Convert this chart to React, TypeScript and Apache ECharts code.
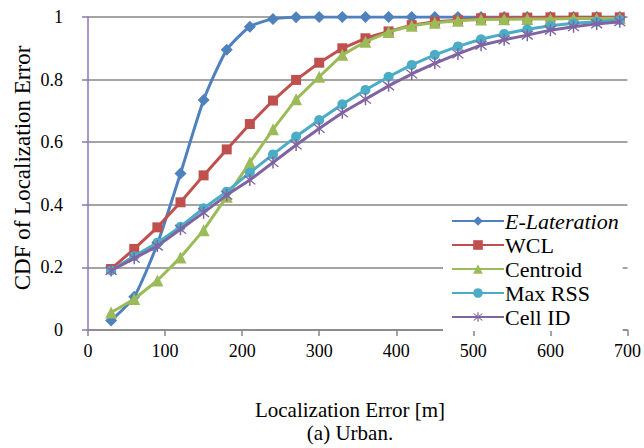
import React, { useEffect, useRef } from "react";
import * as echarts from "echarts";

const xValues = [30, 60, 90, 120, 150, 180, 210, 240, 270, 300, 330, 360, 390, 420, 450, 480, 510, 540, 570, 600, 630, 660, 690];
const eLateration = [0.03, 0.106, 0.275, 0.5, 0.735, 0.895, 0.969, 0.994, 0.999, 1, 1, 1, 1, 1, 1, 1, 1, 1, 1, 1, 1, 1, 1];
const wcl = [0.195, 0.259, 0.328, 0.408, 0.494, 0.577, 0.658, 0.733, 0.799, 0.854, 0.9, 0.932, 0.954, 0.974, 0.985, 0.99, 0.996, 0.998, 0.998, 0.999, 0.999, 0.999, 0.999];
const centroid = [0.056, 0.099, 0.158, 0.232, 0.319, 0.426, 0.535, 0.641, 0.737, 0.809, 0.879, 0.921, 0.952, 0.972, 0.982, 0.988, 0.992, 0.993, 0.994, 0.994, 0.995, 0.995, 0.996];
const maxRss = [0.19, 0.236, 0.279, 0.33, 0.389, 0.442, 0.503, 0.561, 0.618, 0.671, 0.721, 0.767, 0.809, 0.847, 0.879, 0.906, 0.929, 0.946, 0.961, 0.972, 0.98, 0.985, 0.991];
const cellId = [0.19, 0.229, 0.268, 0.322, 0.375, 0.431, 0.479, 0.535, 0.591, 0.644, 0.694, 0.737, 0.78, 0.818, 0.852, 0.882, 0.91, 0.927, 0.942, 0.958, 0.969, 0.978, 0.985];
const seriesNames = ["E-Lateration", "WCL", "Centroid", "Max RSS", "Cell ID"];
const yTickLabels = ["0", "0.2", "0.4", "0.6", "0.8", "1"];
const xTitle = "Localization Error [m]";
const caption = "(a) Urban.";
const yTitle = "CDF of Localization Error";

const colors = ["#4F81BD", "#C0504D", "#9BBB59", "#4BACC6", "#8064A2"];
const asterisk =
  "path://M45,0L55,0L55,100L45,100Z M10,17L17,10L90,83L83,90Z M83,10L90,17L17,90L10,83Z";
const symbols = ["diamond", "rect", "triangle", "circle", asterisk];
const symbolSizes = [12, 10, 12, 10, 12];

const FONT = "Times New Roman, Liberation Serif, DejaVu Serif, serif";

export default function App() {
  const ref = useRef<HTMLDivElement>(null);
  useEffect(() => {
    document.body.style.margin = "0";
    const chart = echarts.init(ref.current!, null, { renderer: "svg" });
    const allData = [eLateration, wcl, centroid, maxRss, cellId];
    const series = allData.map((vals, i) => ({
      name: seriesNames[i],
      type: "line",
      data: xValues.map((x, j) => [x, vals[j]]),
      symbol: symbols[i],
      symbolSize: symbolSizes[i],
      smooth: i === 0 ? 0.2 : false,
      lineStyle: { color: colors[i], width: 3 },
      itemStyle: { color: colors[i] },
      z: 2 + i,
    }));
    chart.setOption({
      animation: false,
      backgroundColor: "#ffffff",
      color: colors,
      textStyle: { fontFamily: FONT },
      grid: { left: 88, right: 13, top: 17, bottom: 118, containLabel: false },
      xAxis: {
        type: "value",
        min: 0,
        max: 700,
        interval: 100,
        axisLine: { lineStyle: { color: "#868686", width: 1.5 } },
        axisTick: { show: true, inside: false, length: 6, lineStyle: { color: "#868686", width: 1.5 } },
        axisLabel: { color: "#000", fontFamily: FONT, fontSize: 18, margin: 12 },
        splitLine: { show: false },
      },
      yAxis: {
        type: "value",
        min: 0,
        max: 1,
        interval: 0.2,
        axisLine: { show: true, lineStyle: { color: "#8B74B5", width: 1.5 } },
        axisTick: { show: true, inside: false, length: 6, lineStyle: { color: "#8B74B5", width: 1.5 } },
        axisLabel: {
          color: "#000",
          fontFamily: FONT,
          fontSize: 18,
          margin: 25,
          formatter: (v: number) => yTickLabels[Math.round(v * 5)],
        },
        splitLine: { show: true, lineStyle: { color: "#868686", width: 1.5 } },
      },
      legend: {
        orient: "vertical",
        left: 443,
        top: 207,
        width: 188,
        backgroundColor: "#ffffff",
        padding: [3, 4, 3, 8],
        itemWidth: 52,
        itemHeight: 12,
        itemGap: 2,
        textStyle: { fontFamily: FONT, fontSize: 22, color: "#000", padding: [0, 0, 0, -4] },
        data: seriesNames.map((n, i) => ({
          name: n,
          textStyle: i === 0 ? { fontStyle: "italic" } : {},
        })),
      },
      graphic: [
        {
          type: "text",
          x: 0,
          style: {
            text: xTitle + "\n" + caption,
            x: 350,
            y: 398,
            textAlign: "center",
            fontFamily: FONT,
            fontSize: 21,
            lineHeight: 23,
            fill: "#000",
          },
        },
        {
          type: "text",
          rotation: Math.PI / 2,
          x: 22,
          y: 168,
          style: {
            text: yTitle,
            textAlign: "center",
            textVerticalAlign: "middle",
            fontFamily: FONT,
            fontSize: 23,
            fill: "#000",
          },
        },
      ],
      series,
    });
    return () => chart.dispose();
  }, []);
  return <div ref={ref} style={{ width: 644, height: 448 }} />;
}
